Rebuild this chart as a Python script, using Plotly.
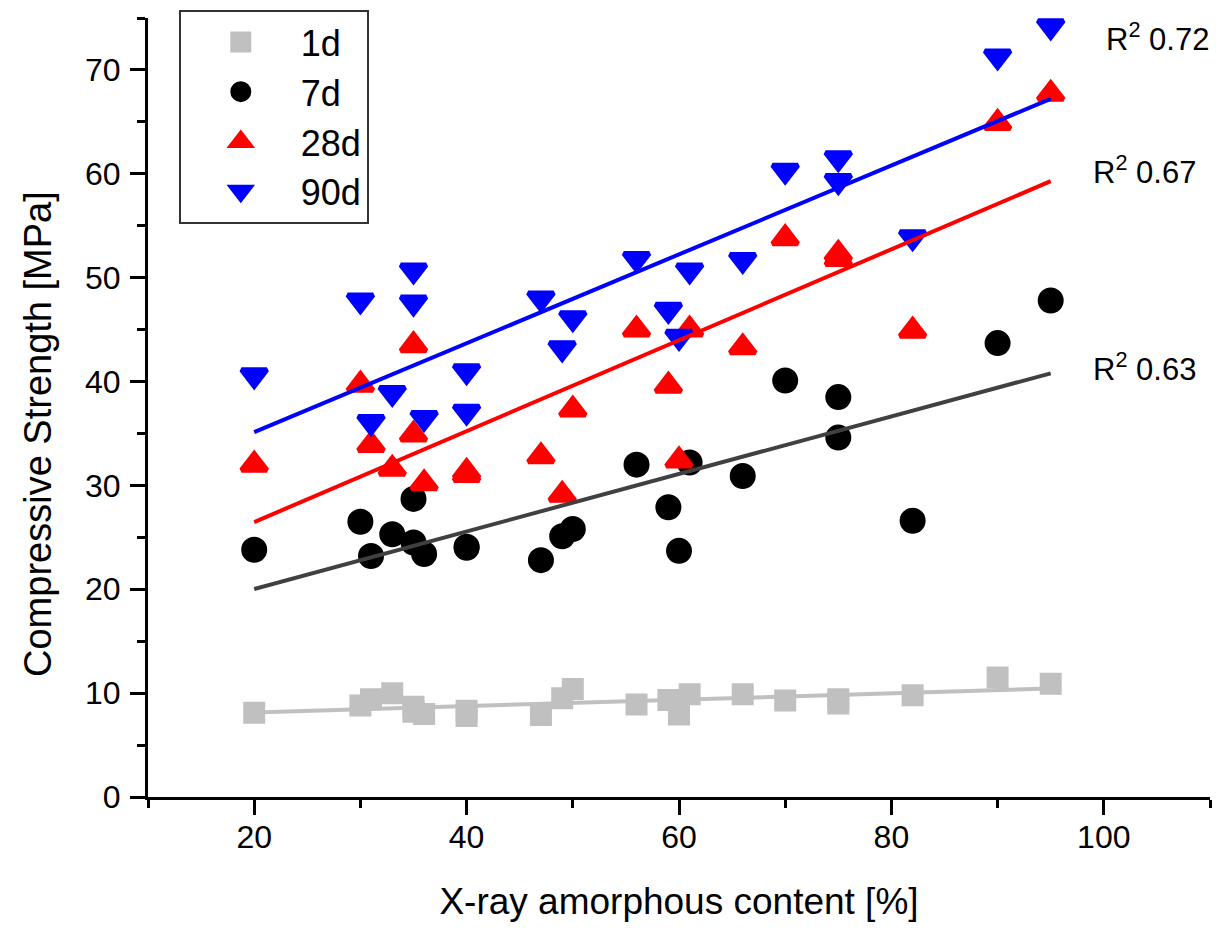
import numpy as np
import plotly.graph_objects as go

# X-ray amorphous content [%] of each sample
x_content = [20, 30, 31, 33, 35, 35, 36, 40, 40, 47, 49, 50, 56, 59, 60, 61, 66, 70, 75, 75, 82, 90, 95]

# Compressive strength [MPa] at each age
s_1d = [8.1, 8.8, 9.4, 10.0, 8.7, 8.2, 8.0, 8.3, 7.8, 7.9, 9.5, 10.4, 8.9, 9.35, 7.95, 9.9, 9.9, 9.3, 9.4, 9.0, 9.8, 11.5, 10.9]
s_7d = [23.8, 26.5, 23.2, 25.3, 28.7, 24.5, 23.4, 24.1, 24.0, 22.8, 25.1, 25.8, 32.0, 27.9, 23.7, 32.2, 30.9, 40.1, 38.5, 34.6, 26.6, 43.7, 47.8]
s_28d = [32.0, 39.7, 33.9, 31.6, 43.5, 34.9, 30.2, 31.3, 31.0, 32.8, 29.1, 37.3, 45.0, 39.6, 32.4, 45.0, 43.3, 53.8, 52.3, 51.8, 44.9, 64.9, 67.7]
s_90d = [40.6, 47.8, 36.1, 38.9, 50.7, 47.6, 36.5, 41.0, 37.1, 48.0, 43.2, 46.1, 51.8, 46.9, 44.3, 50.7, 51.7, 60.3, 61.5, 59.3, 53.9, 71.3, 74.2]

series_names = ["1d", "7d", "28d", "90d"]
r2_labels = ["0.63", "0.67", "0.72"]   # for 7d, 28d, 90d fits

FONT = "Liberation Sans, Arial, sans-serif"

styles = {
    "1d": dict(symbol="square", size=17, color="#C0C0C0", line="#C0C0C0"),
    "7d": dict(symbol="circle", size=21, color="#000000", line="#404040"),
    "28d": dict(symbol="triangle-up", size=22, color="#FF0000", line="#FF0000"),
    "90d": dict(symbol="triangle-down", size=22, color="#0000FF", line="#0000FF"),
}
values = {"1d": s_1d, "7d": s_7d, "28d": s_28d, "90d": s_90d}

fig = go.Figure()

for name in series_names:
    st = styles[name]
    fig.add_trace(go.Scatter(
        x=x_content, y=values[name], mode="markers", name=name,
        marker=dict(symbol=st["symbol"], size=st["size"], color=st["color"],
                    line=dict(width=5, color=st["color"])),
    ))

# linear fits
xa = np.array(x_content, dtype=float)
xfit = np.array([xa.min(), xa.max()])
for name in series_names:
    st = styles[name]
    k, b = np.polyfit(xa, np.array(values[name], dtype=float), 1)
    fig.add_trace(go.Scatter(
        x=xfit, y=k * xfit + b, mode="lines", showlegend=False, hoverinfo="skip",
        line=dict(color=st["line"], width=4),
    ))

# R^2 labels
r2_pos = [(98.8, 41.4), (98.8, 60.4), (100.0, 73.2)]
for lab, (px, py) in zip(r2_labels, r2_pos):
    fig.add_annotation(x=px, y=py, xref="x", yref="y", text="R<sup>2</sup> " + lab,
                       showarrow=False, xanchor="left", yanchor="middle",
                       font=dict(family=FONT, size=31, color="black"))

# y-axis title (placed as in the original, slightly below centre)
fig.add_annotation(x=-0.1036, y=0.466, xref="paper", yref="paper",
                   text="Compressive Strength [MPa]", textangle=-90, showarrow=False,
                   xanchor="center", yanchor="middle",
                   font=dict(family=FONT, size=38, color="black"))

axis_common = dict(
    showline=True, linecolor="black", linewidth=3, mirror=False,
    ticks="outside", ticklen=15, tickwidth=3, tickcolor="black",
    showgrid=False, zeroline=False,
    tickfont=dict(family=FONT, size=32, color="black"),
)

fig.update_xaxes(range=[10, 110], tick0=0, dtick=20, ticklabelstandoff=-5,
                 minor=dict(ticks="outside", dtick=10, tick0=0, ticklen=8, tickwidth=3, tickcolor="black"),
                 title=dict(text="X-ray amorphous content [%]", font=dict(family=FONT, size=37, color="black"), standoff=34),
                 **axis_common)
fig.update_yaxes(range=[0, 75], tick0=0, dtick=10, ticklabelstandoff=3,
                 minor=dict(ticks="outside", dtick=5, tick0=0, ticklen=8, tickwidth=3, tickcolor="black"),
                 **axis_common)

fig.update_layout(
    width=1220, height=931,
    margin=dict(l=148, r=10, t=18, b=134),
    plot_bgcolor="white", paper_bgcolor="white",
    font=dict(family=FONT, color="black"),
    legend=dict(x=0.029, y=1.0103, xanchor="left", yanchor="top",
                bordercolor="#333333", borderwidth=2, bgcolor="white",
                font=dict(family=FONT, size=36, color="black"),
                itemsizing="trace", itemwidth=110, tracegroupgap=0),
)

fig.write_html("out.html")
